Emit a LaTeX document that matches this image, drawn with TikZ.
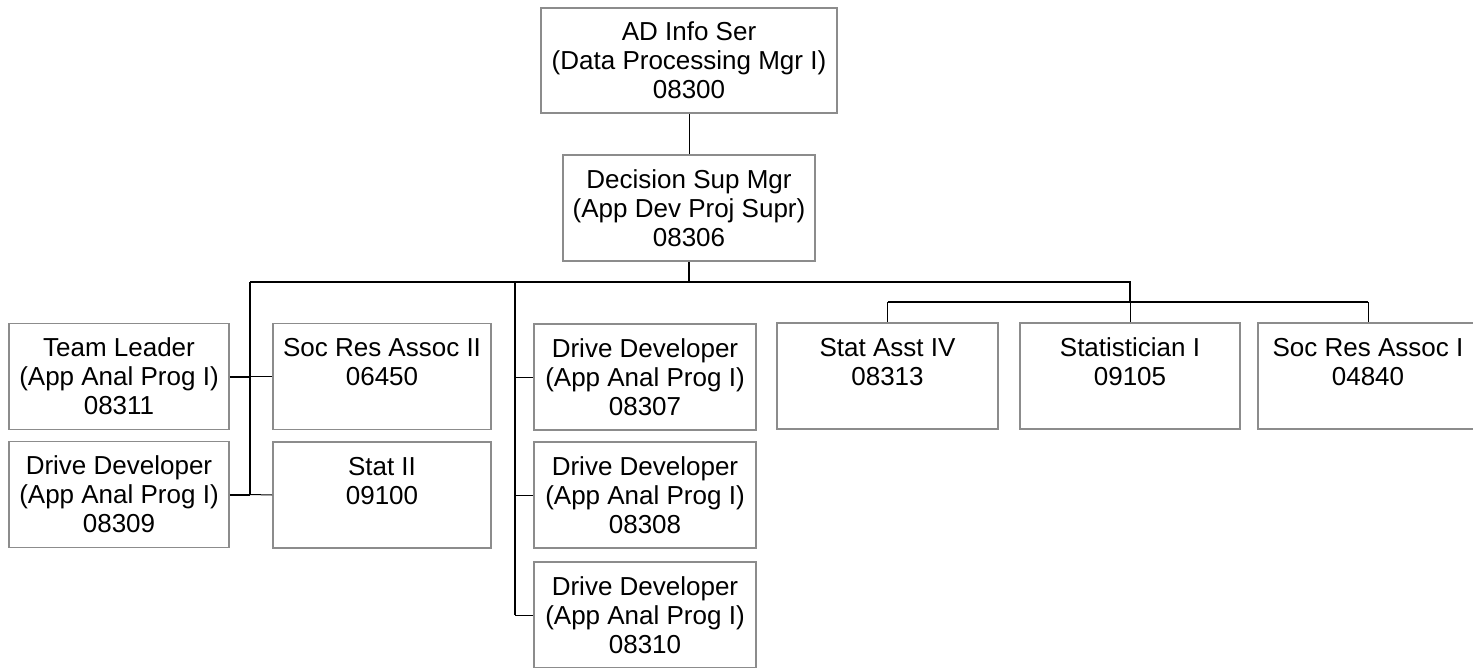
\documentclass[tikz,border=0pt]{standalone}
\usepackage{fontspec}
\setmainfont{Liberation Sans}
\begin{document}
\begin{tikzpicture}[x=1pt,y=-1pt,
  box/.style={draw=boxgray, line width=1.6pt, fill=white, rectangle, inner sep=0pt,
    minimum height=106pt, align=center, font=\fontsize{26}{29}\selectfont},
  bus/.style={line width=2pt, black},
  tie/.style={line width=1pt, black}]
\definecolor{boxgray}{RGB}{140,140,140}
\clip (0,0) rectangle (1473,667);
\fill[white] (0,0) rectangle (1473,667);
% nodes
\node[box, minimum width=296pt, minimum height=105pt] (top) at (689,60.5) {AD Info Ser\\(Data Processing Mgr I)\\08300};
\node[box, minimum width=252pt] (dec) at (689,208) {Decision Sup Mgr\\(App Dev Proj Supr)\\08306};
\node[box, minimum width=220pt] (tl) at (119,376.5) {Team Leader\\(App Anal Prog I)\\08311};
\node[box, minimum width=220pt] (d09) at (119,494.5) {Drive Developer\\(App Anal Prog I)\\08309};
\node[box, minimum width=218pt] (sr2) at (382,376.5) {Soc Res Assoc II\\06450\\\mbox{}};
\node[box, minimum width=218pt] (st2) at (382,495) {Stat II\\09100\\\mbox{}};
\node[box, minimum width=222pt] (d07) at (645,377) {Drive Developer\\(App Anal Prog I)\\08307};
\node[box, minimum width=222pt] (d08) at (645,495) {Drive Developer\\(App Anal Prog I)\\08308};
\node[box, minimum width=222pt] (d10) at (645,615) {Drive Developer\\(App Anal Prog I)\\08310};
\node[box, minimum width=221pt] (sa4) at (887.5,376) {Stat Asst IV\\08313\\\mbox{}};
\node[box, minimum width=220pt] (sti) at (1130,376) {Statistician I\\09105\\\mbox{}};
\node[box, minimum width=220pt] (sr1) at (1368,376) {Soc Res Assoc I\\04840\\\mbox{}};
% junctions
\coordinate (jL) at (250,282);
\coordinate (jM) at (515,282);
\coordinate (jR) at (1130,282);
\coordinate (jR2) at (1130,302);
\coordinate (jRa) at (887.5,302);
\coordinate (jRc) at (1368,302);
% connectors
\draw[tie] (top.south) -- (dec.north);
\draw[bus] (dec.south) -- (dec.south |- jL);
\draw[bus] (jL) -- (jR) -- (jR2);
\draw[bus] (jRa) -- (jRc);
\draw[tie] (jRa) -- (sa4.north);
\draw[tie] (jR2) -- (sti.north);
\draw[tie] (jRc) -- (sr1.north);
% left group
\draw[bus] (jL) -- (jL |- d09.east);
\draw[bus] (tl.east) -- (tl.east -| jL);
\draw[bus] (d09.east) -- (d09.east -| jL);
\draw[tie] (tl.east -| jL) -- (sr2.west);
\draw[tie] (d09.east -| jL) -- (st2.west);
% middle group
\draw[bus] (jM) -- (jM |- d10.west);
\draw[tie] (d07.west -| jM) -- (d07.west);
\draw[tie] (d08.west -| jM) -- (d08.west);
\draw[tie] (d10.west -| jM) -- (d10.west);
\end{tikzpicture}
\end{document}
